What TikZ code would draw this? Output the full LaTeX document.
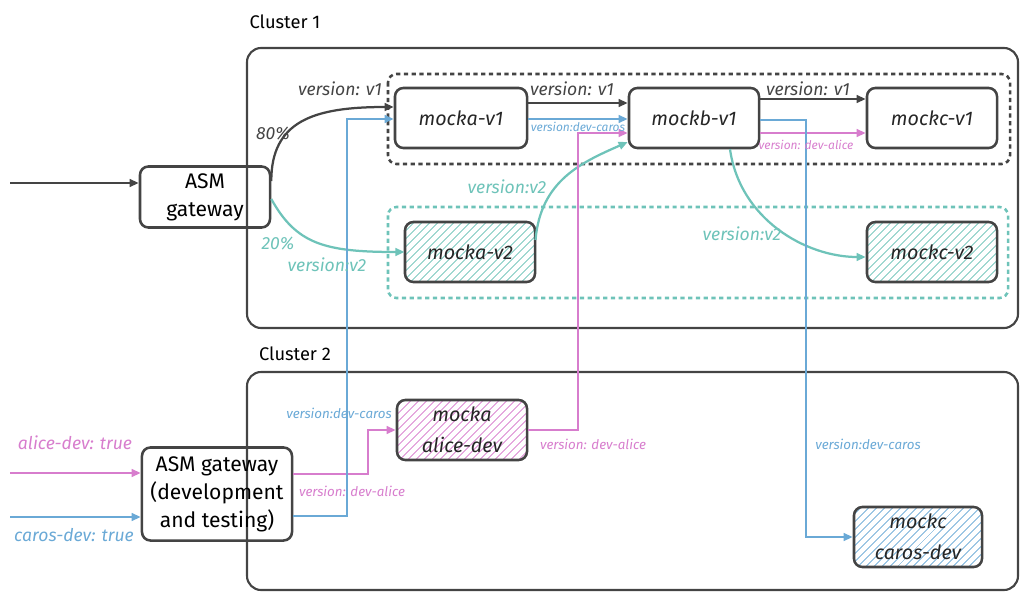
\documentclass[tikz,border=0pt]{standalone}
\usepackage{fontspec}
\setmainfont{Fira Sans}
\usepackage{tikz}
\usetikzlibrary{arrows.meta,calc,patterns.meta}
\definecolor{ink}{HTML}{444444}
\definecolor{tealc}{HTML}{6EC3B9}
\definecolor{pinkc}{HTML}{D77DCD}
\definecolor{bluec}{HTML}{6AA9D6}

\begin{document}
\begin{tikzpicture}[x=0.025cm, y=-0.025cm,
	svc/.style={draw=ink, line width=1.8pt, rounded corners=6pt, minimum width=3.25cm, minimum height=1.5cm, align=center, inner sep=1pt, text=black!85, font=\fontsize{14}{22}\selectfont\itshape},
	gate/.style={draw=ink, line width=1.8pt, rounded corners=6pt, align=center, inner sep=1pt, text=black, font=\fontsize{15}{20}\selectfont},
	hatch/.style={pattern={Lines[angle=45,distance=4pt,line width=0.7pt]}, pattern color=#1},
	grp/.style={draw=#1, line width=1.8pt, dash pattern=on 3pt off 2.5pt, rounded corners=6pt},
	cluster/.style={draw=ink, line width=1.5pt, rounded corners=10pt},
	flow/.style={line width=1.6pt, -{Triangle[length=6.5pt,width=5.5pt]}},
	lbl/.style={font=\fontsize{12.5}{14}\selectfont\itshape},
	lblsm/.style={font=\fontsize{9.5}{11}\selectfont\itshape},
	lblxs/.style={font=\fontsize{8.5}{10}\selectfont\itshape}]
	\useasboundingbox (0,0) rectangle (1024,597);
	\draw[cluster] (247,48) rectangle (1018,328);
	\draw[cluster] (247,372) rectangle (1018,590);
	\node[font=\fontsize{13}{15}\selectfont] (c1) at (285,22) {Cluster 1};
	\node[font=\fontsize{13}{15}\selectfont] (c2) at (295,354) {Cluster 2};
	\draw[grp=ink] (388,74) rectangle (1010,164);
	\draw[grp=tealc] (388,207) rectangle (1008,298);

	\node[gate, minimum width=3.25cm, minimum height=1.525cm] (gw) at (205,197) {ASM\\gateway};
	\node[gate, minimum width=3.75cm, minimum height=2.325cm] (gw2) at (217,494) {ASM gateway\\(development\\and testing)};
	\node[svc, minimum width=3.3cm] (mockav1) at (461,118) {mocka-v1};
	\node[svc] (mockbv1) at (694,118) {mockb-v1};
	\node[svc] (mockcv1) at (932,118) {mockc-v1};
	\node[svc, hatch=tealc] (mockav2) at (470,252) {mocka-v2};
	\node[svc, hatch=tealc] (mockcv2) at (932,252) {mockc-v2};
	\node[svc, hatch=pinkc] (alicedev) at (462,430) {mocka\\alice-dev};
	\node[svc, hatch=bluec, minimum width=3.2cm] (carosdev) at (918,537) {mockc\\caros-dev};

	\coordinate (in1) at (10,183);
	\coordinate (in2) at (10,473);
	\coordinate (in3) at (10,517);
	\draw[flow, ink] (in1) -- (in1 -| gw.west);
	\draw[flow, ink] ($(gw.east)+(0,-16)$) .. controls +(0,-60) and +(-80,0) .. ($(mockav1.west)+(0,-11)$);
	\draw[flow, tealc] ($(gw.east)+(0,2)$) .. controls +(25,45) and +(-80,0) .. (mockav2.west);
	\draw[flow, ink] ($(mockav1.east)+(0,-15)$) -- ($(mockbv1.west)+(0,-15)$);
	\draw[flow, bluec] ($(mockav1.east)+(0,1)$) -- ($(mockbv1.west)+(0,1)$);
	\draw[flow, ink] ($(mockbv1.east)+(0,-19)$) -- ($(mockcv1.west)+(0,-19)$);
	\draw[flow, pinkc] ($(mockbv1.east)+(0,15)$) -- ($(mockcv1.west)+(0,15)$);
	\draw[flow, tealc] ($(mockav2.east)+(0,-12)$) .. controls +(5,-60) and +(-45,20) .. ($(mockbv1.west)+(0,24)$);
	\draw[flow, tealc] ($(mockbv1.south)+(36,0)$) .. controls +(10,70) and +(-60,0) .. ($(mockcv2.west)+(0,5)$);
	\draw[flow, pinkc] (alicedev.east) -| ($(mockbv1.west)+(-50,15)$) -- ($(mockbv1.west)+(0,15)$);
	\draw[flow, bluec] ($(mockbv1.east)+(0,2)$) -- +(46,0) |- (carosdev.west);
	\draw[flow, pinkc] (in2) -- (in2 -| gw2.west);
	\draw[flow, bluec] (in3) -- (in3 -| gw2.west);
	\draw[flow, pinkc] ($(gw2.east)+(0,-20)$) -- +(75,0) |- (alicedev.west);
	\draw[flow, bluec] ($(gw2.east)+(0,22)$) -- +(54,0) |- ($(mockav1.west)+(0,1)$);

	\node[lbl, ink] (l80) at (273,134) {80\%};
	\node[lbl, ink] (lv1a) at (340,89) {version: v1};
	\node[lbl, ink] (lv1b) at (572,89) {version: v1};
	\node[lbl, ink] (lv1c) at (808,89) {version: v1};
	\node[lblxs, bluec] (lcar1) at (578,127) {version:dev-caros};
	\node[lblxs, pinkc] (lali1) at (806,145) {version: dev-alice};
	\node[lbl, tealc] (l20) at (278,244) {20\%};
	\node[lbl, tealc] (lv2a) at (327,265) {version:v2};
	\node[lbl, tealc] (lv2b) at (507,187) {version:v2};
	\node[lbl, tealc] (lv2c) at (742,234) {version:v2};
	\node[lbl, pinkc] (lalice) at (75,443) {alice-dev: true};
	\node[lbl, bluec] (lcaros) at (74,535) {caros-dev: true};
	\node[lblsm, bluec] (lcar2) at (339,413) {version:dev-caros};
	\node[lblsm, pinkc] (lali2) at (352,491) {version: dev-alice};
	\node[lblsm, pinkc] (lali3) at (593,444) {version: dev-alice};
	\node[lblsm, bluec] (lcar3) at (868,444) {version:dev-caros};
\end{tikzpicture}
\end{document}
